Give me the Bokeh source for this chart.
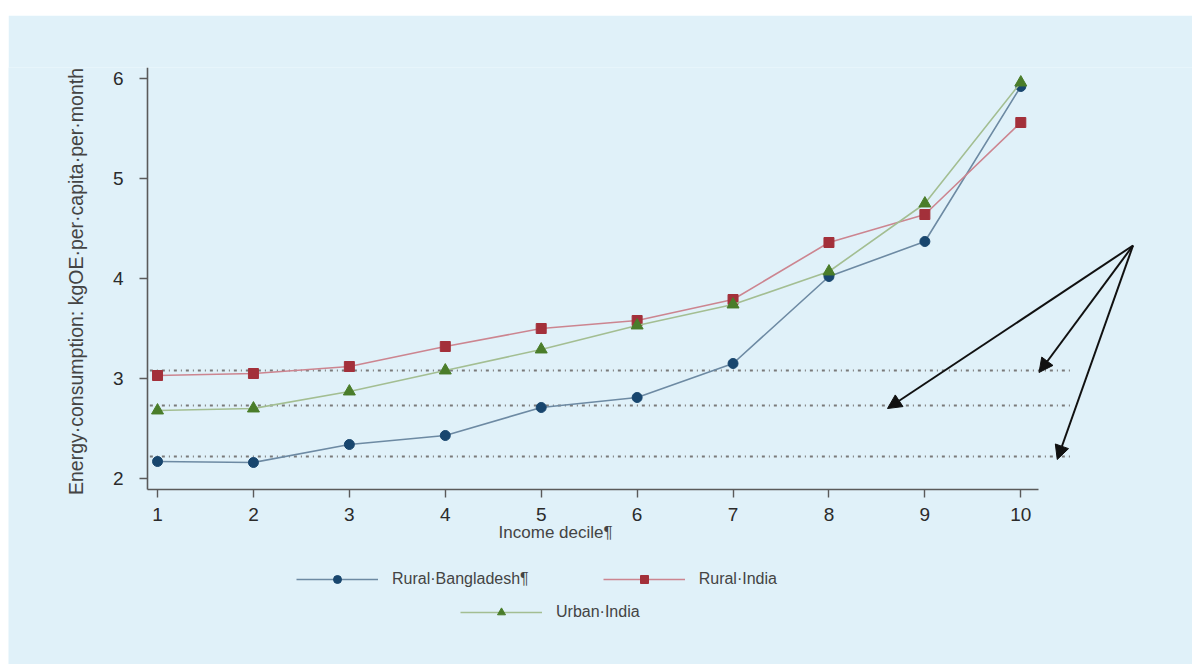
import math
from bokeh.plotting import figure
from bokeh.models import (Range1d, Legend, LegendItem, Label, Arrow, NormalHead,
                          FixedTicker, Spacer)
from bokeh.layouts import column, row
from bokeh.embed import file_html
from bokeh.resources import INLINE

# ---------------- data ----------------
deciles = [1, 2, 3, 4, 5, 6, 7, 8, 9, 10]
rural_bangladesh = [2.17, 2.16, 2.34, 2.43, 2.71, 2.81, 3.15, 4.02, 4.37, 5.92]
rural_india = [3.03, 3.05, 3.12, 3.32, 3.50, 3.58, 3.79, 4.36, 4.64, 5.56]
urban_india = [2.68, 2.70, 2.87, 3.08, 3.29, 3.53, 3.74, 4.07, 4.75, 5.96]
series_names = ["Rural·Bangladesh¶", "Rural·India", "Urban·India"]
reference_levels = [3.08, 2.73, 2.22]
arrow_start = (11.17, 4.33)
arrow_tips_x = [10.19, 8.61, 10.38]
arrow_tips_y = [3.06, 2.70, 2.19]
y_ticks = [2, 3, 4, 5, 6]
x_label = "Income decile¶"
y_label = "Energy·consumption: kgOE·per·capita·per·month"

BG = "#e0f1f9"
FONT = "Liberation Sans"

# frame covers the whole canvas; axes are drawn at fixed data locations
p = figure(width=1184, height=649, output_backend="svg", toolbar_location=None,
           x_range=Range1d(-0.5537, 11.79), y_range=Range1d(0.14, 6.11),
           min_border_left=0, min_border_top=52, min_border_bottom=0,
           min_border_right=0)
p.background_fill_color = BG
p.border_fill_color = BG
p.outline_line_color = None
p.xgrid.visible = False
p.ygrid.visible = False

# axes
for ax in (p.xaxis[0], p.yaxis[0]):
    ax.axis_line_color = "#5a5a5a"
    ax.axis_line_width = 1.6
    ax.major_tick_line_color = "#5a5a5a"
    ax.major_tick_line_width = 1.4
    ax.major_tick_in = 0
    ax.major_tick_out = 8
    ax.minor_tick_line_color = None
    ax.major_label_text_font = FONT
    ax.major_label_text_font_size = "19px"
    ax.major_label_text_color = "#2b2b2b"

p.xaxis.ticker = FixedTicker(ticks=deciles)
p.xaxis.bounds = (0.8957, 10.18)
p.xaxis.fixed_location = 1.89
p.xaxis.major_label_standoff = 10

p.yaxis.ticker = FixedTicker(ticks=y_ticks)
p.yaxis.bounds = (1.89, 6.11)
p.yaxis.fixed_location = 0.8957
p.yaxis.major_label_standoff = 16

# y-axis label (centred on the drawn axis)
p.add_layout(Label(x=0.145, y=3.97, text=y_label, angle=math.pi / 2,
                   text_align="center", text_baseline="middle",
                   text_font=FONT, text_font_size="19.5px",
                   text_color="#444444"))

# reference dotted lines
for lvl in reference_levels:
    p.line([0.92, 10.55], [lvl, lvl], line_color="#7a7a7a", line_width=2,
           line_dash="3 4 1 4")

# series
styles = [
    (rural_bangladesh, "#6d8aa3", "#18466e", "circle", 10),
    (rural_india, "#cc8590", "#a3303a", "square", 10),
    (urban_india, "#a3be92", "#4a7d2a", "triangle", 12),
]
items = []
for name, (vals, lc, mc, mk, sz) in zip(series_names, styles):
    lr = p.line(deciles, vals, line_color=lc, line_width=1.6)
    sr = p.scatter(deciles, vals, marker=mk, size=sz, fill_color=mc,
                   line_color=mc)
    items.append(LegendItem(label=name, renderers=[lr, sr]))

# arrows
for tx, ty in zip(arrow_tips_x, arrow_tips_y):
    p.add_layout(Arrow(x_start=arrow_start[0], y_start=arrow_start[1],
                       x_end=tx, y_end=ty, line_color="#111111", line_width=2,
                       end=NormalHead(size=14, fill_color="#111111",
                                      line_color="#111111")))

# x-axis label
p.add_layout(Label(x=5.15, y=1.46, text=x_label, text_align="center",
                   text_baseline="middle", text_font=FONT,
                   text_font_size="17px", text_color="#444444"))

# legends (positions in pixels from the frame's lower-left corner)
def make_legend(its, loc):
    lg = Legend(items=its, location=loc, orientation="horizontal",
                glyph_width=82, glyph_height=20, label_height=20,
                label_standoff=14, spacing=74, padding=0, margin=0,
                border_line_alpha=0, background_fill_alpha=0,
                label_text_font=FONT, label_text_font_size="16px",
                label_text_color="#444444")
    return lg

p.add_layout(make_legend(items[:2], (288, 75)))
p.add_layout(make_legend(items[2:], (452, 42)))

layout = column(Spacer(height=15), row(Spacer(width=8), p))
open("out.html", "w").write(file_html(layout, INLINE))
